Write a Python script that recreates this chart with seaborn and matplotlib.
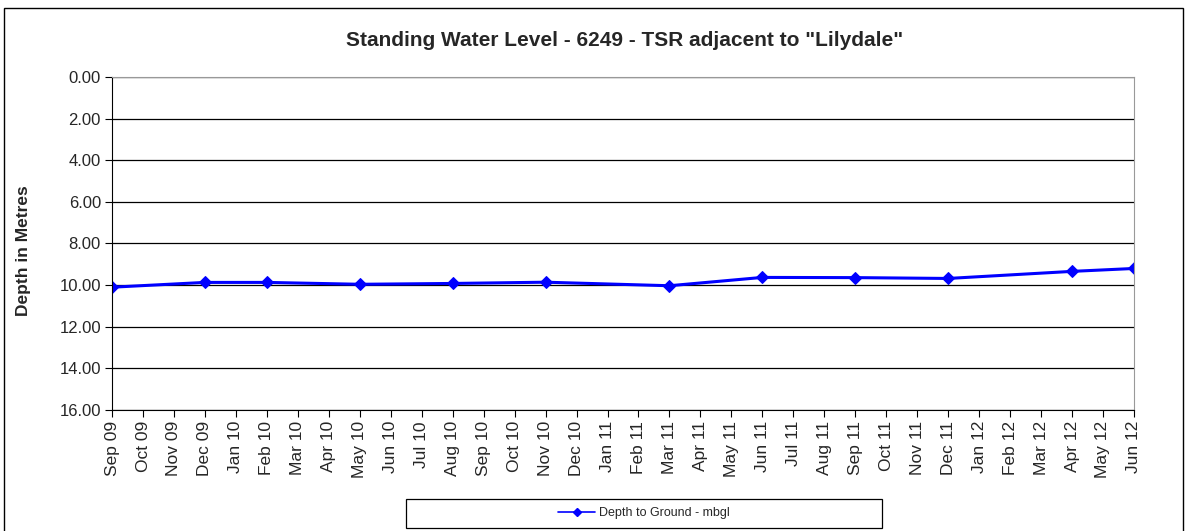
import numpy as np
import pandas as pd
import matplotlib
matplotlib.use("Agg")
import matplotlib.pyplot as plt
import seaborn as sns
from matplotlib.patches import Rectangle
from matplotlib.lines import Line2D

months = ["Sep 09", "Oct 09", "Nov 09", "Dec 09", "Jan 10", "Feb 10", "Mar 10",
          "Apr 10", "May 10", "Jun 10", "Jul 10", "Aug 10", "Sep 10", "Oct 10",
          "Nov 10", "Dec 10", "Jan 11", "Feb 11", "Mar 11", "Apr 11", "May 11",
          "Jun 11", "Jul 11", "Aug 11", "Sep 11", "Oct 11", "Nov 11", "Dec 11",
          "Jan 12", "Feb 12", "Mar 12", "Apr 12", "May 12", "Jun 12"]
sample_months = ["Sep 09", "Dec 09", "Feb 10", "May 10", "Aug 10", "Nov 10",
                 "Mar 11", "Jun 11", "Sep 11", "Dec 11", "Apr 12", "Jun 12"]
depth = [10.10, 9.87, 9.87, 9.96, 9.92, 9.86, 10.03, 9.63, 9.64, 9.68, 9.34, 9.20]

df = pd.DataFrame({"month": sample_months, "depth": depth})
df["pos"] = df["month"].map({m: i for i, m in enumerate(months)})

sns.set_style("white")
plt.rcParams["font.family"] = ["Liberation Sans", "DejaVu Sans"]

fig = plt.figure(figsize=(11.87, 5.31), dpi=100)
ax = fig.add_axes([0.0944, 0.2279, 0.8609, 0.6271])

sns.lineplot(data=df, x="pos", y="depth", ax=ax, color="#0000ff", lw=2.2,
             marker="D", markersize=6, markeredgecolor="#0000ff", legend=False)

ax.set_xlim(0, len(months) - 1)
ax.set_ylim(16, 0)
ax.set_yticks(np.arange(0, 17, 2))
ax.set_yticklabels([f"{v:.2f}" for v in np.arange(0, 17, 2)], fontsize=12)
ax.set_xticks(range(len(months)))
ax.set_xticklabels(months, rotation=90, fontsize=12.5)
ax.yaxis.grid(True, color="#000000", lw=0.9)
ax.xaxis.grid(False)
ax.tick_params(axis="both", direction="out", length=5, color="#000000",
               left=True, bottom=True, pad=3)
ax.set_xlabel("")
ax.set_ylabel("Depth in Metres", fontsize=12.5, fontweight="bold")
ax.yaxis.set_label_coords(-0.079, 0.48)
for side in ["top", "right"]:
    ax.spines[side].set_color("#999999")
for side in ["left", "bottom"]:
    ax.spines[side].set_color("#000000")

fig.text(0.526, 0.923, 'Standing Water Level - 6249 - TSR adjacent to "Lilydale"',
         ha="center", va="center", fontsize=15, fontweight="bold")

# legend box at the bottom, as wide as in the original
fig.patches.append(Rectangle((0.342, 0.0056), 0.401, 0.0546, transform=fig.transFigure,
                             fill=False, edgecolor="#000000", lw=0.9))
handle = Line2D([], [], color="#0000ff", lw=1.2, marker="D", markersize=4)
fig.legend([handle], ["Depth to Ground - mbgl"], loc="center",
           bbox_to_anchor=(0.5425, 0.033), fontsize=9, frameon=False,
           handlelength=3, handletextpad=0.3)

fig.patches.append(Rectangle((0.003, -0.01), 0.994, 0.995, transform=fig.transFigure,
                             fill=False, edgecolor="#000000", lw=1))

fig.savefig("out.png", dpi=100, facecolor="white")
